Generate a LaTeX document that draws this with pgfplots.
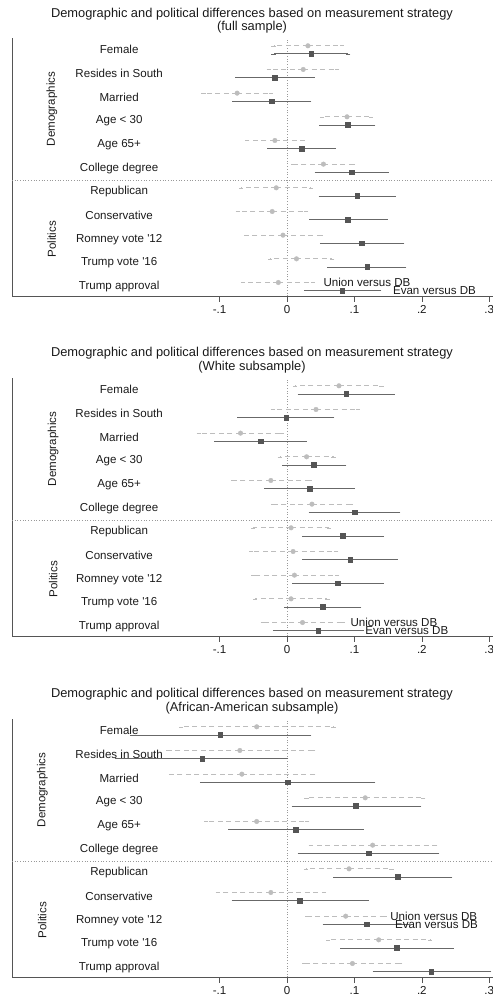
\documentclass[border=0pt]{standalone}
\usepackage{pgfplots}
\pgfplotsset{compat=1.18}
\usepackage{pgfplotstable}
\usepackage{fontspec}
\setmainfont{Liberation Sans}
\definecolor{ucol}{HTML}{BDBDBD}
\definecolor{ecol}{HTML}{555555}
\definecolor{ebar}{HTML}{686868}
\definecolor{axcol}{HTML}{555555}
\definecolor{txt}{HTML}{1A1A1A}
\newcommand\lf{\fontsize{11.6}{13}\selectfont}
\newcommand\tf{\fontsize{12.9}{14}\selectfont}

% row  pt  lo  hi   (row 11 = Female ... row 1 = Trump approval)
\pgfplotstableread{
row pt lo hi
11 0.031 -0.020 0.081
10 0.024 -0.027 0.074
9 -0.074 -0.124 -0.024
8 0.089 0.052 0.124
7 -0.018 -0.059 0.023
6 0.054 0.009 0.098
5 -0.016 -0.068 0.035
4 -0.022 -0.073 0.028
3 -0.006 -0.060 0.050
2 0.014 -0.025 0.067
1 -0.013 -0.065 0.038
}\uA
\pgfplotstableread{
row pt lo hi
11 0.036 -0.020 0.091
10 -0.018 -0.074 0.038
9 -0.023 -0.078 0.033
8 0.090 0.051 0.128
7 0.022 -0.026 0.069
6 0.096 0.044 0.148
5 0.104 0.050 0.158
4 0.090 0.036 0.146
3 0.111 0.052 0.171
2 0.119 0.063 0.174
1 0.082 0.028 0.137
}\eA
\pgfplotstableread{
row pt lo hi
11 0.077 0.012 0.140
10 0.043 -0.021 0.105
9 -0.069 -0.131 -0.008
8 0.029 -0.011 0.069
7 -0.024 -0.080 0.034
6 0.037 -0.021 0.095
5 0.006 -0.050 0.062
4 0.009 -0.053 0.073
3 0.011 -0.050 0.074
2 0.006 -0.047 0.060
1 0.023 -0.036 0.083
}\uB
\pgfplotstableread{
row pt lo hi
11 0.088 0.019 0.157
10 -0.001 -0.071 0.067
9 -0.039 -0.105 0.026
8 0.040 -0.004 0.085
7 0.034 -0.031 0.098
6 0.100 0.035 0.165
5 0.083 0.025 0.141
4 0.094 0.026 0.161
3 0.075 0.011 0.140
2 0.053 -0.001 0.107
1 0.046 -0.018 0.111
}\eB
\pgfplotstableread{
row pt lo hi
11 -0.045 -0.157 0.069
10 -0.070 -0.176 0.039
9 -0.067 -0.172 0.039
8 0.116 0.029 0.202
7 -0.045 -0.120 0.030
6 0.127 0.035 0.220
5 0.092 0.028 0.155
4 -0.024 -0.103 0.055
3 0.087 0.030 0.145
2 0.136 0.061 0.212
1 0.097 0.026 0.168
}\uC
\pgfplotstableread{
row pt lo hi
11 -0.099 -0.230 0.033
10 -0.126 -0.252 -0.001
9 0.001 -0.126 0.128
8 0.102 0.010 0.196
7 0.013 -0.084 0.111
6 0.121 0.019 0.223
5 0.164 0.072 0.242
4 0.019 -0.079 0.118
3 0.118 0.056 0.180
2 0.163 0.082 0.244
1 0.214 0.130 0.300
}\eC

\pgfplotsset{panel/.style={
  scale only axis, width=484bp, height=258bp,
  xmin=-0.408, xmax=0.31, ymin=0.6, ymax=11.5,
  axis x line*=bottom, axis y line*=left,
  axis line style={axcol, line width=0.8pt},
  xtick={-0.1,0,0.1,0.2,0.3}, xticklabels={-.1,0,.1,.2,.3},
  ytick=\empty,
  tick align=outside, major tick length=6bp,
  tick style={axcol, line width=0.6pt},
  xticklabel style={font=\lf, text=txt},
  clip=false, anchor=south west,
}}

\newcommand\guides{%
  \draw[black!40, dotted, line width=0.7pt] (axis cs:0,0.6) -- (axis cs:0,11.5);
  \draw[black!40, dotted, line width=0.7pt] (axis cs:-0.408,5.5) -- (axis cs:0.31,5.5);
}
\newcommand\rowlabels[1]{%
  \node[font=\lf, text=txt] at (axis cs:-0.249,11) {Female};
  \node[font=\lf, text=txt] at (axis cs:-0.249,10) {Resides in South};
  \node[font=\lf, text=txt] at (axis cs:-0.249,9) {Married};
  \node[font=\lf, text=txt] at (axis cs:-0.249,8) {Age < 30};
  \node[font=\lf, text=txt] at (axis cs:-0.249,7) {Age 65+};
  \node[font=\lf, text=txt] at (axis cs:-0.249,6) {College degree};
  \node[font=\lf, text=txt] at (axis cs:-0.249,5) {Republican};
  \node[font=\lf, text=txt] at (axis cs:-0.249,4) {Conservative};
  \node[font=\lf, text=txt] at (axis cs:-0.249,3) {Romney vote \textquotesingle12};
  \node[font=\lf, text=txt] at (axis cs:-0.249,2) {Trump vote \textquotesingle16};
  \node[font=\lf, text=txt] at (axis cs:-0.249,1) {Trump approval};
  \node[font=\lf, text=txt, rotate=90] at (axis cs:#1,8.5) {Demographics};
  \node[font=\lf, text=txt, rotate=90] at (axis cs:#1,3) {Politics};
}
\newcommand\series[2]{%
  \addplot[ucol, only marks, mark=*, mark size=2.3bp,
    mark options={solid, fill=ucol, draw=ucol},
    error bars/.cd, x dir=both, x explicit,
    error bar style={ucol, line width=0.7pt, dash pattern=on 5bp off 3.5bp},
    error mark options={solid, ucol, mark size=2.1bp, line width=0.6pt}]
    table[x=pt, y expr=\thisrow{row}+0.17,
      x error plus expr=\thisrow{hi}-\thisrow{pt},
      x error minus expr=\thisrow{pt}-\thisrow{lo}] {#1};
  \addplot[ecol, only marks, mark=square*, mark size=2.3bp,
    mark options={solid, fill=ecol, draw=ecol},
    error bars/.cd, x dir=both, x explicit,
    error bar style={ebar, line width=0.7pt, solid},
    error mark options={solid, ebar, mark size=2.1bp, line width=0.6pt}]
    table[x=pt, y expr=\thisrow{row}-0.17,
      x error plus expr=\thisrow{hi}-\thisrow{pt},
      x error minus expr=\thisrow{pt}-\thisrow{lo}] {#2};
}

\begin{document}
\begin{tikzpicture}
\useasboundingbox (0,0) rectangle (493bp,997bp);
\tikzset{tt/.style={font=\tf, text=txt, inner sep=0pt}}
% titles
\node[tt] at (252bp,983bp) {Demographic and political differences based on measurement strategy};
\node[tt] at (252bp,970bp) {(full sample)};
\node[tt] at (252bp,644bp) {Demographic and political differences based on measurement strategy};
\node[tt] at (252bp,630bp) {(White subsample)};
\node[tt] at (252bp,303bp) {Demographic and political differences based on measurement strategy};
\node[tt] at (252bp,289bp) {(African-American subsample)};

\begin{axis}[panel, at={(12bp,701bp)}]
\guides
\series{\uA}{\eA}
\rowlabels{-0.349}
\node[font=\lf, text=txt, anchor=west, inner sep=0pt] at (axis cs:0.054,1.17) {Union versus DB};
\node[font=\lf, text=txt, anchor=west, inner sep=0pt] at (axis cs:0.157,0.83) {Evan versus DB};
\end{axis}

\begin{axis}[panel, at={(12bp,361bp)}]
\guides
\series{\uB}{\eB}
\rowlabels{-0.347}
\node[font=\lf, text=txt, anchor=west, inner sep=0pt] at (axis cs:0.094,1.17) {Union versus DB};
\node[font=\lf, text=txt, anchor=west, inner sep=0pt] at (axis cs:0.116,0.83) {Evan versus DB};
\end{axis}

\begin{axis}[panel, at={(12bp,20bp)}]
\guides
\series{\uC}{\eC}
\rowlabels{-0.363}
\node[font=\lf, text=txt, anchor=west, inner sep=0pt] at (axis cs:0.153,3.17) {Union versus DB};
\node[font=\lf, text=txt, anchor=west, inner sep=0pt] at (axis cs:0.160,2.83) {Evan versus DB};
\end{axis}
\end{tikzpicture}
\end{document}
